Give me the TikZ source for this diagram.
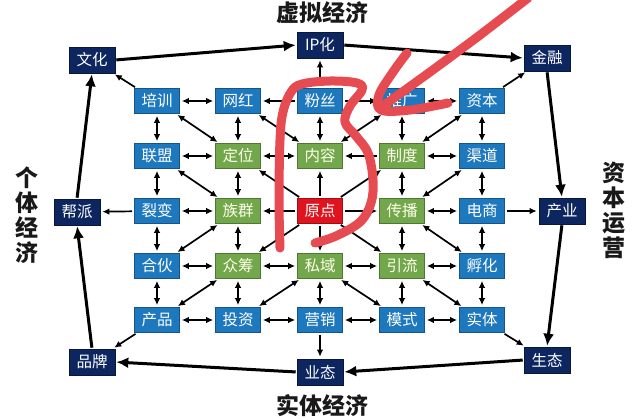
\documentclass[tikz,border=0pt]{standalone}
\usepackage{fontspec}
\newfontfamily\cjk{Noto Sans CJK SC}
\usetikzlibrary{arrows.meta}
\definecolor{navy}{HTML}{0E2660}
\definecolor{nblue}{HTML}{1E78BE}
\definecolor{ngreen}{HTML}{72A84B}
\definecolor{nred}{HTML}{E0141E}
\definecolor{scrib}{HTML}{E54B50}
\begin{document}
\begin{tikzpicture}[x=1pt,y=-1pt,
  box/.style={rectangle, minimum width=45pt, minimum height=25pt, inner sep=0pt, text=white, line width=0.6pt, font=\cjk\fontsize{15.5}{15.5}\selectfont},
  bbox/.style={box, fill=nblue, draw=nblue!70!black},
  gbox/.style={box, fill=ngreen, draw=ngreen!70!black, text=white!92!yellow},
  rbox/.style={box, fill=nred, draw=nred!70!black},
  obox/.style={box, fill=navy, draw=navy!60!black, minimum width=46pt, minimum height=26pt},
  two/.style={line width=1.7pt, {Latex[length=7pt,width=6.5pt]}-{Latex[length=7pt,width=6.5pt]}, shorten >=2pt, shorten <=2pt},
  one/.style={line width=1.7pt, -{Latex[length=7pt,width=6.5pt]}, shorten >=2pt, shorten <=2pt},
  big/.style={line width=3pt, -{Latex[length=12pt,width=11pt]}, shorten >=1pt, shorten <=1pt},
  title/.style={font=\cjk\bfseries\fontsize{23}{25}\selectfont, text=black!90, align=center, inner sep=0pt},
  scribble/.style={draw=scrib, line width=9pt, line cap=round, line join=round}
]
\useasboundingbox (0,0) rectangle (640,418);
\fill[white] (0,0) rectangle (640,418);

% grid nodes
\node[bbox] (n11) at (157,101) {培训};
\node[bbox] (n12) at (238,101) {网红};
\node[bbox] (n13) at (320,101) {粉丝};
\node[bbox] (n14) at (402,101) {推广};
\node[bbox] (n15) at (482,101) {资本};
\node[bbox] (n21) at (157,156) {联盟};
\node[gbox] (n22) at (238,156) {定位};
\node[gbox] (n23) at (320,156) {内容};
\node[gbox] (n24) at (402,156) {制度};
\node[bbox] (n25) at (482,156) {渠道};
\node[bbox] (n31) at (157,211) {裂变};
\node[gbox] (n32) at (238,211) {族群};
\node[rbox] (n33) at (320,211) {原点};
\node[gbox] (n34) at (402,211) {传播};
\node[bbox] (n35) at (482,211) {电商};
\node[bbox] (n41) at (157,266) {合伙};
\node[gbox] (n42) at (238,266) {众筹};
\node[gbox] (n43) at (320,266) {私域};
\node[gbox] (n44) at (402,266) {引流};
\node[bbox] (n45) at (482,266) {孵化};
\node[bbox] (n51) at (157,320) {产品};
\node[bbox] (n52) at (238,320) {投资};
\node[bbox] (n53) at (320,320) {营销};
\node[bbox] (n54) at (402,320) {模式};
\node[bbox] (n55) at (482,320) {实体};

% outer nodes
\node[obox] (wh) at (92,60) {文化};
\node[obox] (ip) at (320,45) {IP化};
\node[obox] (jr) at (547,58) {金融};
\node[obox] (bp) at (77,212) {帮派};
\node[obox] (cy) at (562,211) {产业};
\node[obox] (pp) at (92,362) {品牌};
\node[obox] (yt) at (320,372) {业态};
\node[obox] (st) at (547,360) {生态};

% titles
\node[title] (tt) at (322,13) {虚拟经济};
\node[title] (tb) at (322,406) {实体经济};
\node[title] (tl) at (27,215) {个\\体\\经\\济};
\node[title] (tr) at (614,210) {资\\本\\运\\营};

% horizontal
\draw[two] (n11) -- (n12);
\draw[one] (n13) -- (n12);
\draw[one] (n13) -- (n14);
\draw[two] (n14) -- (n15);
\draw[two] (n21) -- (n22);
\draw[two] (n22) -- (n23);
\draw[one] (n24) -- (n23);
\draw[two] (n24) -- (n25);
\draw[two] (n31) -- (n32);
\draw[one] (n33) -- (n32);
\draw[one] (n33) -- (n34);
\draw[two] (n34) -- (n35);
\draw[two] (n41) -- (n42);
\draw[two] (n42) -- (n43);
\draw[two] (n43) -- (n44);
\draw[two] (n44) -- (n45);
\draw[two] (n51) -- (n52);
\draw[two] (n52) -- (n53);
\draw[two] (n53) -- (n54);
\draw[two] (n54) -- (n55);

% vertical
\draw[two] (n11) -- (n21);
\draw[two] (n21) -- (n31);
\draw[two] (n31) -- (n41);
\draw[two] (n41) -- (n51);
\draw[two] (n12) -- (n22);
\draw[two] (n22) -- (n32);
\draw[two] (n32) -- (n42);
\draw[two] (n42) -- (n52);
\draw[two] (n13) -- (n23);
\draw[one] (n33) -- (n23);
\draw[one] (n33) -- (n43);
\draw[two] (n43) -- (n53);
\draw[two] (n14) -- (n24);
\draw[two] (n24) -- (n34);
\draw[two] (n34) -- (n44);
\draw[two] (n44) -- (n54);
\draw[two] (n15) -- (n25);
\draw[two] (n25) -- (n35);
\draw[two] (n35) -- (n45);
\draw[two] (n45) -- (n55);

% diagonals
\draw[two] (n11) -- (n22);
\draw[two] (n12) -- (n23);
\draw[two] (n14) -- (n23);
\draw[two] (n15) -- (n24);
\draw[two] (n21) -- (n32);
\draw[two] (n25) -- (n34);
\draw[two] (n32) -- (n41);
\draw[two] (n34) -- (n45);
\draw[two] (n42) -- (n51);
\draw[two] (n43) -- (n52);
\draw[two] (n43) -- (n54);
\draw[two] (n44) -- (n55);
\draw[one] (n33) -- (n22);
\draw[one] (n33) -- (n24);
\draw[one] (n33) -- (n42);
\draw[one] (n33) -- (n44);

% to outer
\draw[one] (n11) -- (wh);
\draw[one] (n15) -- (jr);
\draw[one] (n51) -- (pp);
\draw[one] (n55) -- (st);
\draw[one] (n31) -- (bp);
\draw[one] (n35) -- (cy);
\draw[one] (n13) -- (ip);
\draw[one] (n53) -- (yt);

% outer cycle
\draw[big] (wh.east) -- (ip.west);
\draw[big] (ip.east) -- (jr.west);
\draw[big] (jr.south) -- (cy.north);
\draw[big] (cy.south) -- (st.north);
\draw[big] (st.west) -- (yt.east);
\draw[big] (yt.west) -- (pp.east);
\draw[big] (pp.north) -- (bp.south);
\draw[big] (bp.north) -- (wh.south);

% red scribble
\draw[scribble] plot[smooth, tension=0.6] coordinates {(280,248) (279,200) (280,140) (283,112) (291,92) (302,84) (330,81) (357,83) (362,90) (350,106) (345,122) (356,136) (368,153) (373,180) (371,203) (360,222) (336,236) (315,243)};
\draw[scribble] plot[smooth, tension=0.6] coordinates {(528,-2) (480,35) (430,72) (380,108)};
\draw[scribble] plot[smooth, tension=0.6] coordinates {(407,53) (393,72) (379,95) (381,110) (410,110) (448,103)};
\end{tikzpicture}
\end{document}
